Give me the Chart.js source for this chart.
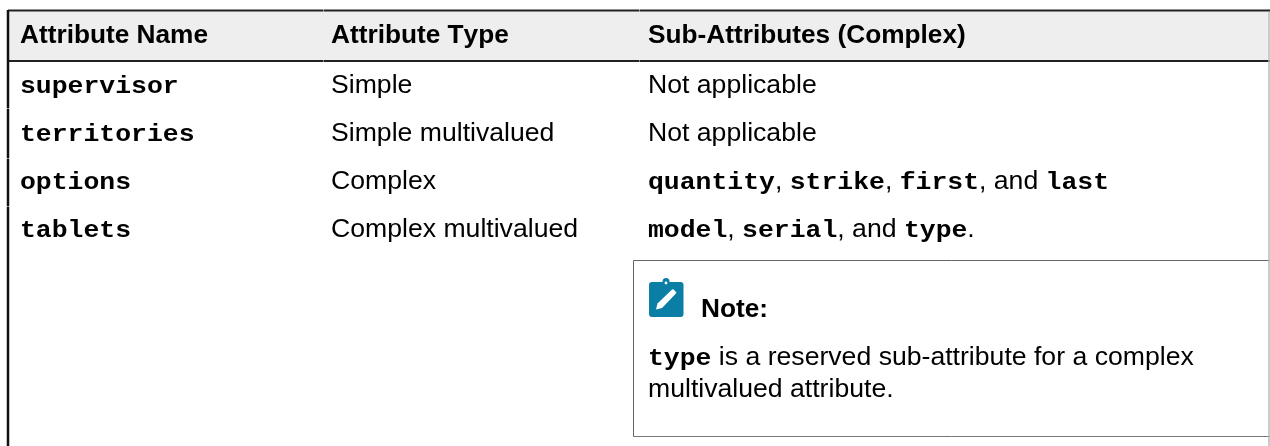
<!DOCTYPE html>
<html>
<head>
<meta charset="utf-8">
<title>Attributes</title>
<script src="https://cdn.jsdelivr.net/npm/chart.js@4"></script>
<style>
  html, body { margin: 0; padding: 0; background: #fff; overflow: hidden; }
  canvas { display: block; }
</style>
</head>
<body>
<canvas id="tbl" width="1270" height="446"></canvas>
<script>
// --- table content, `x` marks a monospace run ---
const columnHeaders = ['Attribute Name', 'Attribute Type', 'Sub-Attributes (Complex)'];
const attributeNames = ['`supervisor`', '`territories`', '`options`', '`tablets`'];
const attributeTypes = ['Simple', 'Simple multivalued', 'Complex', 'Complex multivalued'];
const subAttributes = [
    'Not applicable',
    'Not applicable',
    '`quantity`, `strike`, `first`, and `last`',
    '`model`, `serial`, and `type`.'
];
const noteTitle = 'Note:';
const noteLines = ['`type` is a reserved sub-attribute for a complex', 'multivalued attribute.'];

// --- layout, in pixels of the page ---
const colX = [20, 331, 648];
const rowY = [43, 93, 141, 189, 237];
const noteTitleAt = { x: 701, y: 317 };
const noteLineY = [365, 397];
// the reference type is wider than it is tall, so each face gets its own x stretch
const FACES = {
    sans: { font: '"Liberation Sans"', size: 25.6, stretch: 1.04, weight: '' },
    head: { font: '"Liberation Sans"', size: 25.6, stretch: 1.025, weight: 'bold ' },
    mono: { font: '"Liberation Mono"', size: 23.5, stretch: 1.125, weight: 'bold ' }
};

function pointsFor(xs, ys) {
    return ys.map((y, i) => ({ x: Array.isArray(xs) ? xs[i] : xs, y }));
}
function rule(points, color, width) {
    return { data: points, showLine: true, borderColor: color, borderWidth: width, pointRadius: 0, order: 1 };
}
function anchors(texts, xs, ys, bold) {
    return { data: pointsFor(xs, ys), texts, bold: !!bold, showLine: false, pointRadius: 0 };
}

// draws the header band, the text runs and the note icon
const tablePlugin = {
    id: 'tablePlugin',
    beforeDatasetsDraw(chart) {
        const { ctx, scales: { x, y } } = chart;
        ctx.save();
        ctx.fillStyle = '#eeeeee';
        ctx.fillRect(x.getPixelForValue(9), y.getPixelForValue(11), x.getPixelForValue(1268) - x.getPixelForValue(9), y.getPixelForValue(61) - y.getPixelForValue(11));
        ctx.restore();
    },
    afterDatasetsDraw(chart) {
        const ctx = chart.ctx;
        ctx.save();
        ctx.fillStyle = '#000';
        ctx.textBaseline = 'alphabetic';
        ctx.fontKerning = 'none';
        chart.data.datasets.forEach((ds, i) => {
            if (!ds.texts) return;
            chart.getDatasetMeta(i).data.forEach((pt, j) => {
                let cx = pt.x;
                ds.texts[j].split('`').forEach((run, k) => {
                    if (!run) return;
                    const face = k % 2 === 1 ? FACES.mono : (ds.bold ? FACES.head : FACES.sans);
                    ctx.font = `${face.weight}${face.size}px ${face.font}`;
                    ctx.save();
                    ctx.translate(cx, pt.y);
                    ctx.scale(face.stretch, 1);
                    ctx.fillText(run, 0, 0);
                    ctx.restore();
                    cx += ctx.measureText(run).width * face.stretch;
                });
            });
        });
        drawNoteIcon(ctx, chart.scales.x.getPixelForValue(649), chart.scales.y.getPixelForValue(282));
        ctx.restore();
    }
};

function drawNoteIcon(ctx, left, top) {
    ctx.fillStyle = '#0b7ea6';
    ctx.beginPath();
    ctx.roundRect(left, top, 34.5, 35, 3);
    ctx.fill();
    ctx.beginPath();
    ctx.arc(left + 17, top - 0.5, 3.5, 0, Math.PI * 2);
    ctx.fill();
    ctx.fillStyle = '#fff';
    ctx.beginPath();
    ctx.arc(left + 17, top + 1, 1.4, 0, Math.PI * 2);
    ctx.fill();
    ctx.beginPath();
    ctx.moveTo(left + 7, top + 27.5);
    ctx.lineTo(left + 8.5, top + 21.5);
    ctx.lineTo(left + 22, top + 8.5);
    ctx.lineTo(left + 24, top + 7);
    ctx.lineTo(left + 27.5, top + 10.5);
    ctx.lineTo(left + 26, top + 12.5);
    ctx.lineTo(left + 13, top + 26);
    ctx.closePath();
    ctx.fill();
}

new Chart(document.getElementById('tbl'), {
    type: 'scatter',
    data: {
        datasets: [
            rule([{ x: 1269, y: 12 }, { x: 1269, y: 446 }], '#bbb', 1.5),
            rule([{ x: 8, y: 10 }, { x: 8, y: 108.3 }], '#111', 2.5),
            rule([{ x: 8, y: 108.7 }, { x: 8, y: 158.3 }], '#111', 2.5),
            rule([{ x: 8, y: 158.7 }, { x: 8, y: 206.3 }], '#111', 2.5),
            rule([{ x: 8, y: 206.7 }, { x: 8, y: 446 }], '#111', 2.5),
            rule([{ x: 8, y: 10.5 }, { x: 323.3 , y: 10.5 }], '#222', 2),
            rule([{ x: 323.7, y: 10.5 }, { x: 639.3, y: 10.5 }], '#222', 2),
            rule([{ x: 639.7, y: 10.5 }, { x: 1270, y: 10.5 }], '#222', 2),
            rule([{ x: 8, y: 61 }, { x: 323.3, y: 61 }], '#222', 2),
            rule([{ x: 323.7, y: 61 }, { x: 639.3, y: 61 }], '#222', 2),
            rule([{ x: 639.7, y: 61 }, { x: 1270, y: 61 }], '#222', 2),
            rule([{ x: 633.5, y: 436.5 }, { x: 633.5, y: 260.5 }, { x: 1270, y: 260.5 }], '#666', 1),
            rule([{ x: 633.5, y: 436.5 }, { x: 1270, y: 436.5 }], '#777', 1),
            anchors(columnHeaders, colX, colX.map(() => rowY[0]), true),
            anchors(attributeNames, colX[0], rowY.slice(1)),
            anchors(attributeTypes, colX[1], rowY.slice(1)),
            anchors(subAttributes, colX[2], rowY.slice(1)),
            anchors([noteTitle], noteTitleAt.x, [noteTitleAt.y], true),
            anchors(noteLines, colX[2], noteLineY)
        ]
    },
    options: {
        responsive: false,
        animation: false,
        layout: { padding: 0 },
        plugins: { legend: { display: false }, tooltip: { enabled: false }, title: { display: false } },
        scales: {
            x: { type: 'linear', display: false, min: 0, max: 1270 },
            y: { type: 'linear', display: false, min: 0, max: 446, reverse: true }
        }
    },
    plugins: [tablePlugin]
});
</script>
</body>
</html>
